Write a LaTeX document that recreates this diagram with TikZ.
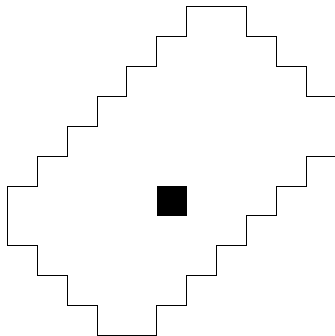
\documentclass[tikz,border=0pt]{standalone}
\begin{document}
\begin{tikzpicture}[outline/.style={draw=black,line width=0.8pt,line join=miter}]
\useasboundingbox (-0.245,0.224) rectangle (10.96,-11.02);
\clip (-0.245,0.224) rectangle (10.96,-11.02);
\draw[outline] (11,-5) -- (10,-5) -- (10,-6) -- (9,-6) -- (9,-7) -- (8,-7) -- (8,-8) -- (7,-8) -- (7,-9) -- (6,-9) -- (6,-10) -- (5,-10) -- (5,-11) -- (3,-11) -- (3,-10) -- (2,-10) -- (2,-9) -- (1,-9) -- (1,-8) -- (0,-8) -- (0,-6) -- (1,-6) -- (1,-5) -- (2,-5) -- (2,-4) -- (3,-4) -- (3,-3) -- (4,-3) -- (4,-2) -- (5,-2) -- (5,-1) -- (6,-1) -- (6,0) -- (8,0) -- (8,-1) -- (9,-1) -- (9,-2) -- (10,-2) -- (10,-3) -- (11,-3);
\fill[black] (5,-6) rectangle (6,-7);
\end{tikzpicture}
\end{document}
